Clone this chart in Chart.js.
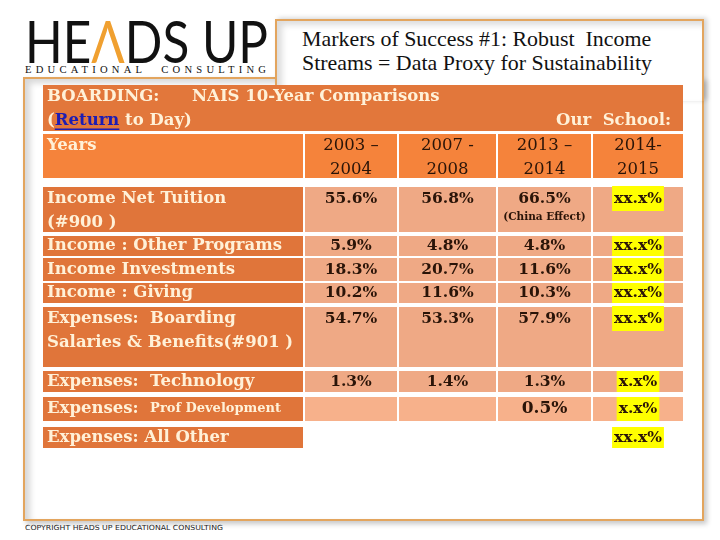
<!DOCTYPE html>
<html>
<head>
<meta charset="utf-8">
<script src="https://cdn.jsdelivr.net/npm/chart.js@4.4.0/dist/chart.umd.min.js"></script>
<style>
    body { margin: 0; width: 720px; height: 540px; background: #fff; position: relative; overflow: hidden; }
    .marco { position: absolute; left: 23px; top: 77px; width: 677px; height: 440px; border: 2px solid #e3a55e;
             box-shadow: inset 5px 4px 6px rgba(0,0,0,0.16), 3px 3px 5px rgba(0,0,0,0.22); }
    .caja-titulo { position: absolute; left: 275px; top: 19px; width: 425px; height: 80px; border: 2px solid #e3a55e; border-bottom: none;
                   background: #fff; box-shadow: inset 5px 4px 6px rgba(0,0,0,0.14), 3px -1px 5px rgba(0,0,0,0.18); }
    .titulo { position: absolute; left: 302px; top: 27px; font-family: "Liberation Serif", serif; font-size: 21px; line-height: 24px; color: #111; white-space: nowrap; transform-origin: left top; }
    .logo { position: absolute; left: 25px; top: 12px; font-family: Lato, sans-serif; font-size: 58px; line-height: 1; color: #111; white-space: nowrap; transform-origin: left top; }
    .logo span { color: #f0a030; }
    .subtitulo { position: absolute; left: 25px; top: 64px; font-family: "Liberation Serif", serif; font-size: 10px; line-height: 12px; color: #111; white-space: nowrap; transform-origin: left top; letter-spacing: 4px; word-spacing: 8px; }
    .copyright { position: absolute; left: 25px; top: 524px; font-family: "DejaVu Sans", sans-serif; font-size: 7px; line-height: 9px; color: #222; white-space: nowrap; transform-origin: left top; }
    canvas { position: absolute; left: 0; top: 0; }
</style>
</head>
<body>
<div class="marco"></div>
<div class="caja-titulo"></div>
<div class="logo" id="logo">HE<span>Λ</span>DS UP</div>
<div class="subtitulo" id="subtitulo">EDUCATIONAL CONSULTIN<span style="letter-spacing:0">G</span></div>
<div class="titulo" id="titulo">Markers of Success #1: Robust&nbsp; Income<br>Streams = Data Proxy for Sustainability</div>
<div class="copyright" id="copyright">COPYRIGHT HEADS UP EDUCATIONAL CONSULTING</div>
<canvas id="tabla" width="720" height="540"></canvas>

<script>
const etiquetasFilas = [
    ["Income Net Tuition", "(#900 )"],
    ["Income : Other Programs"],
    ["Income Investments"],
    ["Income : Giving"],
    ["Expenses:  Boarding", "Salaries & Benefits(#901 )"],
    ["Expenses:  Technology"],
    ["Expenses:  ", "Prof Development"],
    ["Expenses: All Other"]
];
const periodos = [["2003 –", "2004"], ["2007 -", "2008"], ["2013 –", "2014"], ["2014-", "2015"]];
const valores2003 = [55.6, 5.9, 18.3, 10.2, 54.7, 1.3, null, null];
const valores2007 = [56.8, 4.8, 20.7, 11.6, 53.3, 1.4, null, null];
const valores2013 = [66.5, 4.8, 11.6, 10.3, 57.9, 1.3, 0.5, null];
const notas2013 = ["(China Effect)", null, null, null, null, null, null, null];
const valoresColegio = ["xx.x%", "xx.x%", "xx.x%", "xx.x%", "xx.x%", "x.x%", "x.x%", "xx.x%"];

// Disposicion de la tabla (unidades de las escalas)
const anchosColumnas = [260, 92, 97, 93, 90];
const huecoColumnas = 2;
const altosFilas = [46, 44, 45, 20, 23, 20, 60, 21, 24, 21];   // titulo, encabezado, 8 filas de datos
const huecosFilas = [3, 9, 4, 2, 2, 4, 4, 5, 6];

// Colores
const colorTitulo = "#e2773b";
const colorEncabezado = "#f5833b";
const colorEtiqueta = "#e0753a";
const colorDato = "#efa985";
const colorDatoClaro = "#f7b18b";
const colorCrema = "#fff1d8";
const colorOscuro = "#2a1408";
const colorEnlace = "#1c1cb4";
const colorResaltado = "#ffff00";

const serif = '"DejaVu Serif", serif';

// Acumula bordes [inicio, fin] a partir de anchos y huecos
function bordes(tamanos, hueco) {
    const res = [];
    let acc = 0;
    tamanos.forEach((t, i) => {
        res.push([acc, acc + t]);
        acc += t + (Array.isArray(hueco) ? (hueco[i] || 0) : hueco);
    });
    return res;
}
const bordesX = bordes(anchosColumnas, huecoColumnas);
const bordesY = bordes(altosFilas, huecosFilas);
const totalX = bordesX[bordesX.length - 1][1];
const totalY = bordesY[bordesY.length - 1][1];

// Plugin que dibuja celdas y textos usando las escalas del grafico
const pluginTabla = {
    id: 'tablaCeldas',
    afterDraw(chart) {
        const {ctx, scales: {x, y}} = chart;
        const px = v => x.getPixelForValue(v);
        const py = v => y.getPixelForValue(v);

        const celda = (col, fila, color, colFin) => {
            const x0 = px(bordesX[col][0]), x1 = px(bordesX[colFin === undefined ? col : colFin][1]);
            const y0 = py(bordesY[fila][0]), y1 = py(bordesY[fila][1]);
            ctx.fillStyle = color;
            ctx.fillRect(x0, y0, x1 - x0, y1 - y0);
        };
        const centroLinea = (fila, i) => {
            const top = py(bordesY[fila][0]), bot = py(bordesY[fila][1]);
            if (bot - top < 30) return (top + bot) / 2;
            return top + 12 + i * 23.5;
        };
        const centroCol = col => (px(bordesX[col][0]) + px(bordesX[col][1])) / 2;
        const texto = (str, xp, yp, fuente, color, align) => {
            ctx.font = fuente;
            ctx.fillStyle = color;
            ctx.textAlign = align || 'left';
            ctx.textBaseline = 'middle';
            ctx.fillText(str, xp, yp);
            return ctx.measureText(str).width;
        };
        const izq = px(bordesX[0][0]) + 4;

        ctx.save();
        // Fila de titulo
        celda(0, 0, colorTitulo, 4);
        const fTit = "bold 16.5px " + serif;
        texto("BOARDING:", izq, centroLinea(0, 0), fTit, colorCrema);
        texto("NAIS 10-Year Comparisons", izq + 145, centroLinea(0, 0), fTit, colorCrema);
        let xa = izq;
        xa += texto("(", xa, centroLinea(0, 1), fTit, colorCrema);
        const wRet = texto("Return", xa, centroLinea(0, 1), fTit, colorEnlace);
        ctx.fillStyle = colorEnlace;
        ctx.fillRect(xa, centroLinea(0, 1) + 8, wRet, 1.5);
        xa += wRet;
        texto(" to Day)", xa, centroLinea(0, 1), fTit, colorCrema);
        texto("Our  School:", px(bordesX[4][1]) - 12, centroLinea(0, 1), fTit, colorCrema, 'right');

        // Encabezado
        for (let c = 0; c < 5; c++) celda(c, 1, colorEncabezado);
        texto("Years", izq, centroLinea(1, 0), fTit, colorCrema);
        periodos.forEach((p, i) => {
            p.forEach((linea, j) => texto(linea, centroCol(i + 1), centroLinea(1, j), "16.5px " + serif, colorOscuro, 'center'));
        });

        // Filas de datos
        const fEtq = "bold 16.5px " + serif;
        const fNum = "bold 15.5px " + serif;
        const series = [valores2003, valores2007, valores2013];
        etiquetasFilas.forEach((etq, r) => {
            const fila = r + 2;
            celda(0, fila, colorEtiqueta);
            if (r < 7) {
                for (let c = 1; c < 5; c++) celda(c, fila, r === 6 ? colorDatoClaro : colorDato);
            }
            if (r === 6) {
                const w = texto(etq[0], izq, centroLinea(fila, 0), fEtq, colorCrema);
                texto(etq[1], izq + w, centroLinea(fila, 0), "bold 13px " + serif, colorCrema);
            } else {
                etq.forEach((linea, j) => texto(linea, izq, centroLinea(fila, j), fEtq, colorCrema));
            }
            series.forEach((s, i) => {
                if (s[r] === null) return;
                const f = r === 6 ? "bold 17px " + serif : fNum;
                texto(s[r].toFixed(1) + "%", centroCol(i + 1), centroLinea(fila, 0), f, colorOscuro, 'center');
            });
            if (notas2013[r]) {
                texto(notas2013[r], centroCol(3), centroLinea(fila, 0) + 18, "bold 10.5px " + serif, colorOscuro, 'center');
            }
            // Columna del colegio resaltada en amarillo
            ctx.font = fNum;
            const w = ctx.measureText(valoresColegio[r]).width;
            const top = py(bordesY[fila][0]), bot = py(bordesY[fila][1]);
            const alto = bot - top < 30 ? bot - top : 25;
            const y0 = bot - top < 30 ? top : top - 1;
            ctx.fillStyle = colorResaltado;
            ctx.fillRect(centroCol(4) - w / 2 - 2, y0, w + 4, alto);
            texto(valoresColegio[r], centroCol(4), centroLinea(fila, 0), fNum, colorOscuro, 'center');
        });
        ctx.restore();
    }
};

const ctx = document.getElementById("tabla").getContext("2d");
const chart = new Chart(ctx, {
    type: 'scatter',
    data: { datasets: [] },
    options: {
        responsive: false,
        animation: false,
        events: [],
        layout: { padding: { left: 43, top: 85, right: 720 - 43 - totalX, bottom: 540 - 85 - totalY } },
        scales: {
            x: { type: 'linear', min: 0, max: totalX, display: false },
            y: { type: 'linear', min: 0, max: totalY, reverse: true, display: false }
        },
        plugins: { legend: { display: false }, tooltip: { enabled: false } }
    },
    plugins: [pluginTabla]
});

// Ajusta el ancho de los textos html al de la diapositiva
function ajustarAncho(id, ancho) {
    const el = document.getElementById(id);
    el.style.transform = `scaleX(${ancho / el.getBoundingClientRect().width})`;
}
ajustarAncho("logo", 243);
ajustarAncho("subtitulo", 241);
ajustarAncho("titulo", 350);
ajustarAncho("copyright", 198);
</script>
</body>
</html>
